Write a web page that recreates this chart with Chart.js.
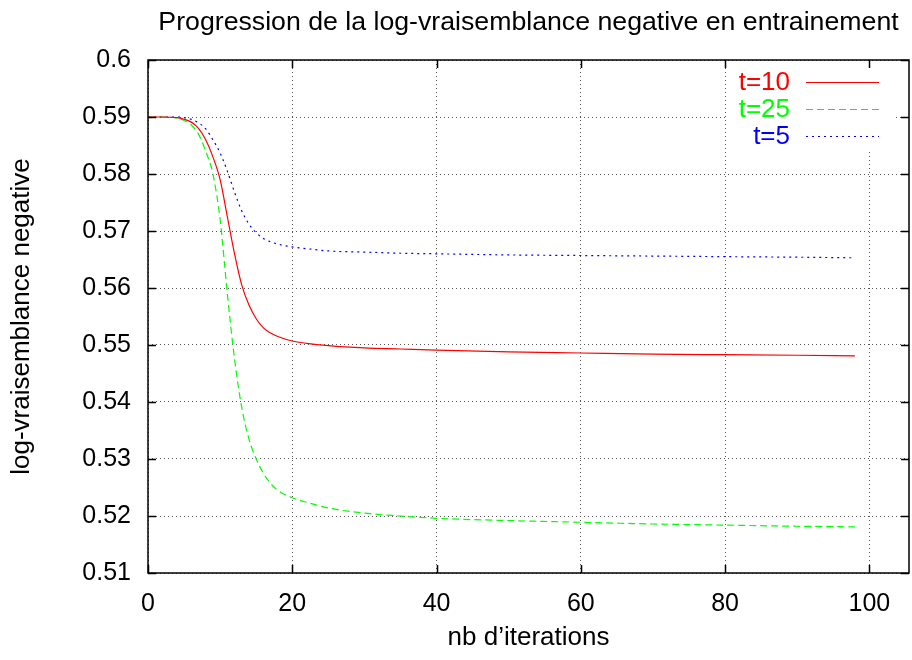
<!DOCTYPE html>
<html>
<head>
<meta charset="utf-8">
<script src="https://cdn.jsdelivr.net/npm/chart.js@4/dist/chart.umd.min.js"></script>
<style>
  html, body { margin: 0; padding: 0; background: #fff; }
  #wrap { width: 912px; height: 660px; }
</style>
</head>
<body>
<div id="wrap"><canvas id="nllChart"></canvas></div>
<script>
// Negative log-likelihood per iteration
const iterations = [0, 2, 4, 5, 6, 7, 8, 9, 10, 11, 12, 13, 14, 15, 16, 17, 18, 20, 22, 25, 30, 35, 40, 50, 60, 70, 80, 90, 98];

const nllT10 = [0.5900, 0.5900, 0.5899, 0.5896, 0.5891, 0.5880, 0.5860, 0.5830, 0.5790, 0.5725, 0.5660, 0.5605, 0.5570, 0.5546,
                0.5530, 0.5521, 0.5515, 0.5507, 0.5503, 0.5499, 0.5495, 0.5493, 0.5491, 0.5488, 0.5486, 0.5484, 0.5483, 0.5482, 0.5481];
const nllT25 = [0.5900, 0.5900, 0.5898, 0.5894, 0.5886, 0.5870, 0.5840, 0.5800, 0.5720, 0.5590, 0.5475, 0.5390, 0.5335, 0.5300,
                0.5275, 0.5257, 0.5245, 0.5232, 0.5224, 0.5214, 0.5205, 0.5200, 0.5196, 0.5192, 0.5189, 0.5186, 0.5184, 0.5182, 0.5181];
const nllT5  = [0.5900, 0.5900, 0.5900, 0.5899, 0.5896, 0.5890, 0.5879, 0.5860, 0.5837, 0.5805, 0.5768, 0.5735, 0.5712, 0.5697,
                0.5687, 0.5681, 0.5677, 0.5672, 0.5669, 0.5665, 0.5663, 0.5661, 0.5660, 0.5658, 0.5657, 0.5656, 0.5655, 0.5654, 0.5653];

const seriesLabels = ['t=10', 't=25', 't=5'];
const seriesColors = ['#ff0000', '#00ff00', '#0000ff'];
const seriesDashes = [[], [7, 4], [2, 4]];

const xTicks = [0, 20, 40, 60, 80, 100];
const chartTitle = 'Progression de la log-vraisemblance negative en entrainement';
const FONT = '"Liberation Sans", Arial, sans-serif';

function toPoints(ys) {
    return iterations.map((x, i) => ({ x: x, y: ys[i] }));
}

// gnuplot-ish frame, inward tick marks, title over the plot area and the key
const gnuplotFrame = {
    id: 'gnuplotFrame',
    beforeDatasetsDraw(chart) {
        const a = chart.chartArea;
        const ctx = chart.ctx;
        // opaque key box over the grid
        ctx.save();
        ctx.fillStyle = '#ffffff';
        ctx.fillRect(a.right - 183, a.top + 1, 167, 89);
        ctx.restore();
    },
    afterDatasetsDraw(chart) {
        const a = chart.chartArea;
        const ctx = chart.ctx;
        const xs = chart.scales.x, ys = chart.scales.y;
        ctx.save();
        ctx.strokeStyle = '#000';
        ctx.lineWidth = 1.5;
        ctx.setLineDash([]);
        ctx.strokeRect(a.left, a.top, a.right - a.left, a.bottom - a.top);
        const len = 8;
        ctx.beginPath();
        xs.ticks.forEach(t => {
            const px = Math.round(xs.getPixelForValue(t.value)) + 0.5;
            ctx.moveTo(px, a.bottom); ctx.lineTo(px, a.bottom - len);
            ctx.moveTo(px, a.top); ctx.lineTo(px, a.top + len);
        });
        ys.ticks.forEach(t => {
            const py = Math.round(ys.getPixelForValue(t.value)) + 0.5;
            ctx.moveTo(a.left, py); ctx.lineTo(a.left + len, py);
            ctx.moveTo(a.right, py); ctx.lineTo(a.right - len, py);
        });
        ctx.stroke();

        // title centred over the plot area, as gnuplot does
        ctx.fillStyle = '#000';
        ctx.font = '26.7px ' + FONT;
        ctx.textAlign = 'center';
        ctx.textBaseline = 'middle';
        ctx.fillText(chartTitle, (a.left + a.right) / 2, 23);

        // key: label right-aligned, sample line to its right
        ctx.font = '26px ' + FONT;
        ctx.textAlign = 'right';
        chart.data.datasets.forEach((ds, i) => {
            const y = a.top + 22 + i * 27;
            ctx.fillStyle = ds.borderColor;
            ctx.fillText(ds.label, a.right - 119, y + 1);
            ctx.strokeStyle = ds.borderColor;
            ctx.lineWidth = 1;
            ctx.setLineDash(ds.borderDash || []);
            ctx.beginPath();
            ctx.moveTo(a.right - 103, Math.round(y) + 0.5);
            ctx.lineTo(a.right - 30, Math.round(y) + 0.5);
            ctx.stroke();
        });
        ctx.restore();
    }
};

new Chart(document.getElementById('nllChart'), {
    type: 'line',
    data: {
        datasets: [nllT10, nllT25, nllT5].map((ys, i) => ({
            label: seriesLabels[i],
            data: toPoints(ys),
            borderColor: seriesColors[i],
            borderDash: seriesDashes[i],
            borderWidth: 1.2,
            pointRadius: 0,
            fill: false,
            cubicInterpolationMode: 'monotone'
        }))
    },
    options: {
        responsive: true,
        maintainAspectRatio: false,
        animation: false,
        layout: { padding: { left: 0, right: 3, top: 60, bottom: 0 } },
        plugins: {
            legend: { display: false },
            tooltip: { enabled: false },
            title: { display: false }
        },
        scales: {
            x: {
                type: 'linear',
                min: 0,
                max: 105.5,
                afterFit: s => { s.height = 87; },
                afterBuildTicks: s => { s.ticks = xTicks.map(v => ({ value: v })); },
                border: { display: false, dash: [1, 3] },
                grid: { color: '#555', drawTicks: false, lineWidth: 1 },
                ticks: {
                    color: '#000',
                    padding: 16,
                    maxRotation: 0,
                    font: { family: FONT, size: 25 }
                },
                title: {
                    display: true,
                    text: 'nb d’iterations',
                    color: '#000',
                    font: { family: FONT, size: 26 },
                    padding: { top: 0, bottom: 7 }
                }
            },
            y: {
                type: 'linear',
                min: 0.51,
                max: 0.6,
                afterFit: s => { s.width = 148; },
                border: { display: false, dash: [1, 3] },
                grid: { color: '#555', drawTicks: false, lineWidth: 1 },
                ticks: {
                    stepSize: 0.01,
                    color: '#000',
                    padding: 17,
                    font: { family: FONT, size: 25 },
                    callback: v => String(+v.toFixed(2))
                },
                title: {
                    display: true,
                    text: 'log-vraisemblance negative',
                    color: '#000',
                    font: { family: FONT, size: 26 },
                    padding: { top: 6, bottom: 0 }
                }
            }
        }
    },
    plugins: [gnuplotFrame]
});
</script>
</body>
</html>
